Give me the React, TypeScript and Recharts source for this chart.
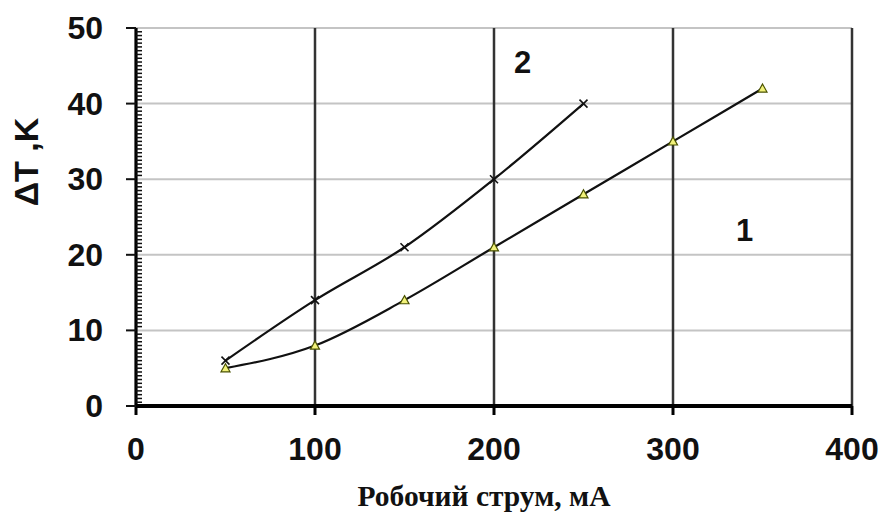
import React from 'react';
import {
  LineChart,
  Line,
  XAxis,
  YAxis,
  CartesianGrid,
  ReferenceDot,
} from 'recharts';

// current, mA
const currents = [50, 100, 150, 200, 250, 300, 350];
// curve 1 (triangles)
const deltaT1 = [5, 8, 14, 21, 28, 35, 42];
// curve 2 (crosses), measured only up to 250 mA
const deltaT2 = [6, 14, 21, 30, 40, null, null];

const xTicks = [0, 100, 200, 300, 400];
const yMajorTicks = [0, 10, 20, 30, 40, 50];
// minor ticks on the Y axis every 0.5 K
const yMinorTicks = Array.from({ length: 101 }, (_, i) => i * 0.5);

const curveLabels = [
  { name: '2', x: 216, y: 45.5 },
  { name: '1', x: 340, y: 23.3 },
];

const data = currents.map((c, i) => ({
  current: c,
  s1: deltaT1[i],
  s2: deltaT2[i],
}));

const FONT = '"Liberation Sans", Arial, sans-serif';

const TriangleDot = (props: any) => {
  const { cx, cy } = props;
  if (cx == null || cy == null) return null;
  const s = 4.5;
  return (
    <path
      d={`M${cx},${cy - s} L${cx + s},${cy + s * 0.8} L${cx - s},${cy + s * 0.8} Z`}
      fill="#f2f27a"
      stroke="#4a5200"
      strokeWidth={1.2}
    />
  );
};

const CrossDot = (props: any) => {
  const { cx, cy } = props;
  if (cx == null || cy == null) return null;
  const s = 4;
  return (
    <g stroke="#111" strokeWidth={1.6}>
      <line x1={cx - s} y1={cy - s} x2={cx + s} y2={cy + s} />
      <line x1={cx - s} y1={cy + s} x2={cx + s} y2={cy - s} />
    </g>
  );
};

const YTick = (props: any) => {
  const { x, y, payload } = props;
  const v = payload.value;
  if (Math.abs(v % 10) < 1e-6) {
    return (
      <g>
        <line x1={x - 10} y1={y} x2={x} y2={y} stroke="#111" strokeWidth={2} />
        <text
          x={x - 33}
          y={y + 11}
          textAnchor="end"
          fontFamily={FONT}
          fontWeight="bold"
          fontSize={32}
          fill="#111"
        >
          {v}
        </text>
      </g>
    );
  }
  return <line x1={x} y1={y} x2={x + 6} y2={y} stroke="#111" strokeWidth={1.5} />;
};

const XTick = (props: any) => {
  const { x, y, payload } = props;
  return (
    <text
      x={x}
      y={y + 43}
      textAnchor="middle"
      fontFamily={FONT}
      fontWeight="bold"
      fontSize={32}
      fill="#111"
    >
      {payload.value}
    </text>
  );
};

const LabelText = (props: any) => {
  const { cx, cy, name } = props;
  return (
    <text
      x={cx}
      y={cy + 11}
      textAnchor="middle"
      fontFamily={FONT}
      fontWeight="bold"
      fontSize={31}
      fill="#111"
    >
      {name}
    </text>
  );
};

export default function App() {
  return (
    <div style={{ position: 'absolute', left: 0, top: 0, background: '#fff' }}>
      <LineChart
        width={880}
        height={514}
        data={data}
        margin={{ top: 28, right: 28, bottom: 0, left: 0 }}
      >
        <CartesianGrid
          vertical={false}
          horizontalValues={yMajorTicks}
          stroke="#c4c4c4"
          strokeWidth={2}
        />
        <CartesianGrid
          horizontal={false}
          verticalValues={xTicks}
          stroke="#333"
          strokeWidth={2.5}
        />
        <XAxis
          type="number"
          dataKey="current"
          domain={[0, 400]}
          ticks={xTicks}
          interval={0}
          height={108}
          axisLine={{ stroke: '#000', strokeWidth: 4 }}
          tickLine={{ stroke: '#000', strokeWidth: 3 }}
          tickSize={9}
          tick={<XTick />}
          label={{
            content: () => (
              <text
                x={484}
                y={506}
                textAnchor="middle"
                fontFamily='"Liberation Serif", "Times New Roman", serif'
                fontWeight="bold"
                fontSize={29.5}
                fill="#111"
              >
                Робочий струм, мА
              </text>
            ),
          }}
        />
        <YAxis
          type="number"
          domain={[0, 50]}
          ticks={yMinorTicks}
          interval={0}
          width={136}
          tickSize={0}
          tickMargin={0}
          tickLine={false}
          axisLine={{ stroke: '#000', strokeWidth: 3 }}
          tick={<YTick />}
          label={{
            content: () => (
              <text
                x={38}
                y={162}
                transform="rotate(-90 38 162)"
                textAnchor="middle"
                fontFamily={FONT}
                fontWeight="bold"
                fontSize={34}
                fill="#111"
              >
                ΔT ,K
              </text>
            ),
          }}
        />
        <Line
          dataKey="s1"
          type="monotone"
          stroke="#111"
          strokeWidth={2.2}
          dot={<TriangleDot />}
          activeDot={false}
          isAnimationActive={false}
        />
        <Line
          dataKey="s2"
          type="monotone"
          stroke="#111"
          strokeWidth={2.2}
          dot={<CrossDot />}
          activeDot={false}
          connectNulls={false}
          isAnimationActive={false}
        />
        {curveLabels.map((l) => (
          <ReferenceDot
            key={l.name}
            x={l.x}
            y={l.y}
            r={1}
            shape={(p: any) => <LabelText {...p} name={l.name} />}
          />
        ))}
      </LineChart>
    </div>
  );
}
